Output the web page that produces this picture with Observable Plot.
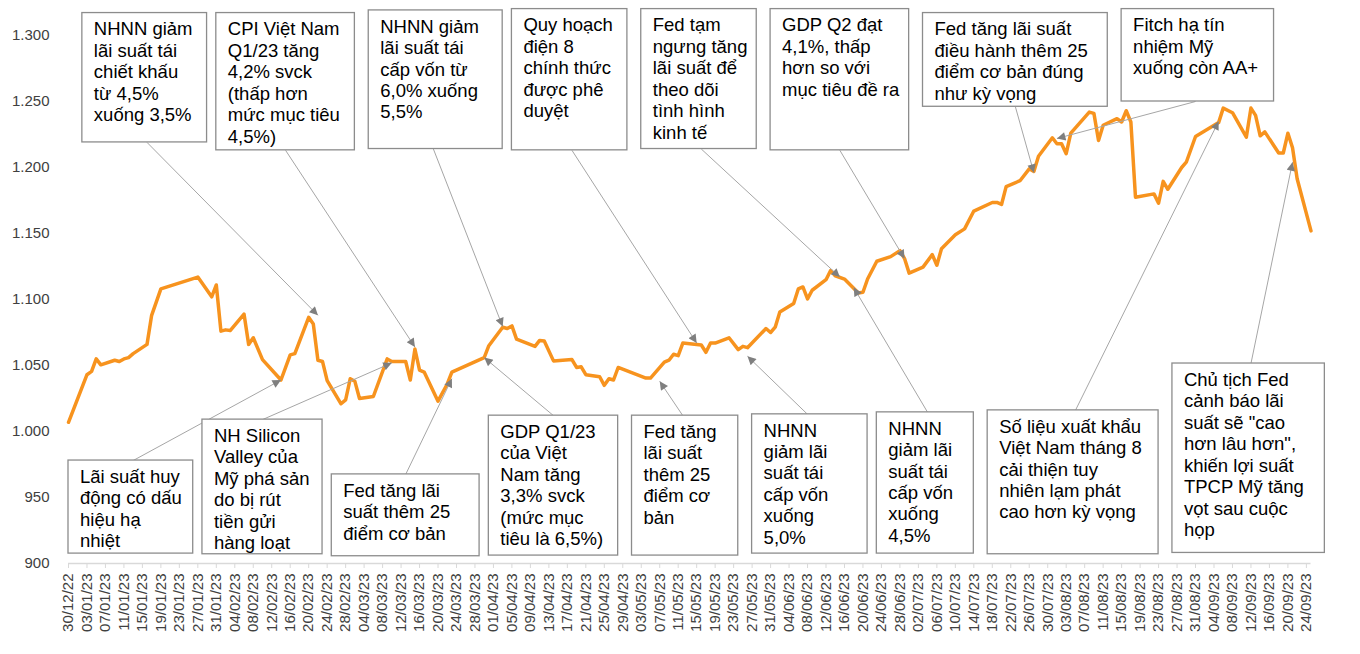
<!DOCTYPE html>
<html>
<head>
<meta charset="utf-8">
<script src="https://cdn.jsdelivr.net/npm/d3@7"></script>
<script src="https://cdn.jsdelivr.net/npm/@observablehq/plot@0.6"></script>
<style>
  html, body { margin: 0; padding: 0; background: #fff; }
  #chart svg { overflow: visible; }
</style>
</head>
<body>
<div id="chart"></div>
<script>
// ---------- DATA ----------
const dates = [
  "2022-12-30","2023-01-03","2023-01-04","2023-01-05","2023-01-06","2023-01-09","2023-01-10","2023-01-11","2023-01-12","2023-01-13",
  "2023-01-16","2023-01-17","2023-01-18","2023-01-19","2023-01-27","2023-01-30","2023-01-31","2023-02-01","2023-02-02","2023-02-03",
  "2023-02-06","2023-02-07","2023-02-08","2023-02-10","2023-02-14","2023-02-16","2023-02-17","2023-02-20","2023-02-21","2023-02-22",
  "2023-02-23","2023-02-24","2023-02-27","2023-02-28","2023-03-01","2023-03-02","2023-03-03","2023-03-06","2023-03-09","2023-03-10",
  "2023-03-13","2023-03-14","2023-03-15","2023-03-16","2023-03-17","2023-03-20","2023-03-22","2023-03-23","2023-03-30","2023-03-31",
  "2023-04-03","2023-04-04","2023-04-05","2023-04-06","2023-04-10","2023-04-11","2023-04-12","2023-04-14","2023-04-18","2023-04-19",
  "2023-04-20","2023-04-21","2023-04-24","2023-04-25","2023-04-26","2023-04-27","2023-04-28","2023-05-04","2023-05-05","2023-05-08",
  "2023-05-09","2023-05-10","2023-05-11","2023-05-12","2023-05-16","2023-05-17","2023-05-18","2023-05-19","2023-05-22","2023-05-24",
  "2023-05-25","2023-05-26","2023-05-30","2023-05-31","2023-06-01","2023-06-02","2023-06-05","2023-06-06","2023-06-07","2023-06-08",
  "2023-06-09","2023-06-12","2023-06-13","2023-06-14","2023-06-16","2023-06-19","2023-06-20","2023-06-21","2023-06-23","2023-06-26",
  "2023-06-28","2023-06-29","2023-06-30","2023-07-03","2023-07-05","2023-07-06","2023-07-07","2023-07-10","2023-07-12","2023-07-14",
  "2023-07-18","2023-07-19","2023-07-20","2023-07-21","2023-07-24","2023-07-26","2023-07-27","2023-07-28","2023-07-31","2023-08-01",
  "2023-08-02","2023-08-03","2023-08-04","2023-08-08","2023-08-09","2023-08-10","2023-08-11","2023-08-14","2023-08-15","2023-08-16",
  "2023-08-17","2023-08-18","2023-08-22","2023-08-23","2023-08-24","2023-08-25","2023-08-28","2023-08-29","2023-08-31","2023-09-05",
  "2023-09-06","2023-09-08","2023-09-11","2023-09-12","2023-09-13","2023-09-14","2023-09-15","2023-09-18","2023-09-19","2023-09-20",
  "2023-09-21","2023-09-22","2023-09-25"
];
const values = [
  1007,1043,1045.5,1055,1050.5,1054,1053,1055,1056,1059,
  1066,1088,1098,1108,1117,1102,1111,1076,1077,1076.5,
  1089,1066,1071,1054.5,1039,1058,1059,1086.5,1081.5,1054,
  1053,1038.5,1021,1024,1040,1038,1025,1026.5,1055,1053,
  1053,1039,1062.5,1046.5,1045,1023,1036,1045,1056,1065,
  1079,1078,1080,1070,1064.5,1069,1068.5,1053.5,1054.5,1048.5,
  1049,1043,1041.5,1035,1040,1039,1048.5,1040.5,1040.5,1052.5,
  1054,1058.5,1057.5,1067,1065.5,1060,1067,1067,1071,1062,
  1064.5,1063.5,1078,1075,1079,1090.5,1097,1108,1109.5,1100.5,
  1107,1115,1122,1118,1115.5,1105,1105.5,1115.5,1129,1132.5,
  1137,1131,1120,1124.5,1134,1126,1138.5,1149,1153.5,1167,
  1173.5,1173.5,1172,1185.5,1190,1199,1197,1208.5,1222.5,1218,
  1218,1210.5,1226,1242,1241,1220.5,1232,1237,1234.5,1243,
  1234.5,1177.5,1180,1173,1189.5,1183.5,1200,1204,1223.5,1234,
  1245,1241.5,1223,1245,1239.5,1224,1227,1211,1211,1226,
  1215,1191.5,1152
];
const yTicks = [900, 950, 1000, 1050, 1100, 1150, 1200, 1250, 1300];
const xTickStart = "2022-12-30";
const xTickEnd = "2023-09-25";
const xTickStepDays = 4;

const noteTexts = [
  "NHNN giảm\nlãi suất tái\nchiết khấu\ntừ 4,5%\nxuống 3,5%",
  "CPI Việt Nam\nQ1/23 tăng\n4,2% svck\n(thấp hơn\nmức mục tiêu\n4,5%)",
  "NHNN giảm\nlãi suất tái\ncấp vốn từ\n6,0% xuống\n5,5%",
  "Quy hoạch\nđiện 8\nchính thức\nđược phê\nduyệt",
  "Fed tạm\nngưng tăng\nlãi suất để\ntheo dõi\ntình hình\nkinh tế",
  "GDP Q2 đạt\n4,1%, thấp\nhơn so với\nmục tiêu đề ra",
  "Fed tăng lãi suất\nđiều hành thêm 25\nđiểm cơ bản đúng\nnhư kỳ vọng",
  "Fitch hạ tín\nnhiệm Mỹ\nxuống còn AA+",
  "Lãi suất huy\nđộng có dấu\nhiệu hạ\nnhiệt",
  "NH Silicon\nValley của\nMỹ phá sản\ndo bị rút\ntiền gửi\nhàng loạt",
  "Fed tăng lãi\nsuất thêm 25\nđiểm cơ bản",
  "GDP Q1/23\ncủa Việt\nNam tăng\n3,3% svck\n(mức mục\ntiêu là 6,5%)",
  "Fed tăng\nlãi suất\nthêm 25\nđiểm cơ\nbản",
  "NHNN\ngiảm lãi\nsuất tái\ncấp vốn\nxuống\n5,0%",
  "NHNN\ngiảm lãi\nsuất tái\ncấp vốn\nxuống\n4,5%",
  "Số liệu xuất khẩu\nViệt Nam tháng 8\ncải thiện tuy\nnhiên lạm phát\ncao hơn kỳ vọng",
  "Chủ tịch Fed\ncảnh báo lãi\nsuất sẽ \"cao\nhơn lâu hơn\",\nkhiến lợi suất\nTPCP Mỹ tăng\nvọt sau cuộc\nhọp"
];
// point on the line each note's arrow refers to
const noteTargetDates = [
  "2023-02-22","2023-03-15","2023-04-03","2023-05-15","2023-06-15","2023-06-29","2023-07-27","2023-08-01",
  "2023-02-14","2023-03-10","2023-03-23","2023-03-30","2023-05-07","2023-05-26","2023-06-18","2023-09-05","2023-09-21"
];
const noteTargetValues = [
  1088, 1064, 1079.5, 1067, 1117, 1131, 1196, 1222,
  1039, 1052, 1040, 1056, 1038, 1057, 1109, 1235, 1204
];

// ---------- LAYOUT (annotation boxes in chart coordinates) ----------
// [left date, right date, top value, bottom value, arrow-start date, arrow-start value]
const boxLayout = [
  ["2023-01-02","2023-01-29",1317,1219,"2023-01-16",1219],
  ["2023-01-31","2023-03-02",1317,1213,"2023-02-15",1213],
  ["2023-03-05","2023-04-03",1319,1214,"2023-03-19",1214],
  ["2023-04-05","2023-04-30",1320,1213,"2023-04-18",1213],
  ["2023-05-03","2023-05-28",1320,1214,"2023-05-16",1214],
  ["2023-05-31","2023-06-30",1320,1213,"2023-06-15",1213],
  ["2023-07-03","2023-08-12",1317,1246,"2023-07-23",1246],
  ["2023-08-15","2023-09-17",1320,1250,"2023-08-31",1250],
  ["2022-12-30","2023-01-26",978,907.5,"2023-01-13",978],
  ["2023-01-28","2023-02-23",1009,907,"2023-02-10",1009],
  ["2023-02-25","2023-03-29",967.5,905.5,"2023-03-13",967.5],
  ["2023-03-31","2023-04-28",1012,906,"2023-04-14",1012],
  ["2023-05-01","2023-05-24",1012,906,"2023-05-12",1012],
  ["2023-05-27","2023-06-21",1013,907.5,"2023-06-08",1013],
  ["2023-06-23","2023-07-14",1014.5,907.5,"2023-07-04",1014.5],
  ["2023-07-17","2023-08-23",1016,907,"2023-08-05",1016],
  ["2023-08-26","2023-09-28",1051.5,908,"2023-09-12",1051.5]
];

// ---------- BUILD ----------
const parse = d3.utcParse("%Y-%m-%d");
const series = dates.map((d, i) => ({date: parse(d), value: values[i]}));
const notes = noteTexts.map((t, i) => ({
  text: t,
  tx: parse(noteTargetDates[i]), ty: noteTargetValues[i],
  x1: parse(boxLayout[i][0]), x2: parse(boxLayout[i][1]),
  y1: boxLayout[i][2], y2: boxLayout[i][3],
  sx: parse(boxLayout[i][4]), sy: boxLayout[i][5]
}));
const xTicks = d3.utcDay.range(parse(xTickStart), parse(xTickEnd), xTickStepDays);
const fmtVN = d => d >= 1000 ? Math.floor(d / 1000) + "." + String(d % 1000).padStart(3, "0") : String(d);

const chart = Plot.plot({
  width: 1360,
  height: 654,
  marginLeft: 68,
  marginRight: 49.5,
  marginTop: 35,
  marginBottom: 91,
  style: {fontFamily: "'Liberation Sans', Arial, sans-serif", background: "#fff", overflow: "visible"},
  x: {type: "utc", domain: [parse("2022-12-30"), parse("2023-09-25")]},
  y: {domain: [900, 1300]},
  marks: [
    Plot.ruleY([900], {stroke: "#d9d9d9", strokeWidth: 1.5}),
    Plot.axisX({ticks: xTicks, tickFormat: d3.utcFormat("%d/%m/%y"), tickRotate: -90, tickSize: 5, tickPadding: 5,
      stroke: "#d9d9d9", fill: "#404040", fontSize: 15, label: null}),
    Plot.axisY({ticks: yTicks, tickFormat: fmtVN, tickSize: 0, tickPadding: 19, fontSize: 15, fill: "#404040", label: null}),
    Plot.line(series, {x: "date", y: "value", stroke: "#f7931e", strokeWidth: 3.5}),
    Plot.link(notes, {x1: "sx", y1: "sy", x2: "tx", y2: "ty", stroke: "#a6a6a6", strokeWidth: 1}),
    Plot.rect(notes, {x1: "x1", x2: "x2", y1: "y1", y2: "y2", fill: "white", stroke: "#8c8c8c", strokeWidth: 1.3}),
    Plot.text(notes, {x: "x1", y: "y1", text: "text", textAnchor: "start", lineAnchor: "top",
      dx: 11.5, dy: 7, fontSize: 18.5, lineHeight: 1.16, fill: "#000"})
  ]
});
document.getElementById("chart").appendChild(chart);

// filled triangular arrowheads on the annotation links
const svg = d3.select(chart);
const defs = svg.append("defs");
defs.append("marker")
  .attr("id", "tri-head")
  .attr("viewBox", "0 0 10 10")
  .attr("refX", 10).attr("refY", 5)
  .attr("markerWidth", 10).attr("markerHeight", 8.5)
  .attr("markerUnits", "userSpaceOnUse")
  .attr("orient", "auto")
  .append("path").attr("d", "M0,0L10,5L0,10Z").attr("fill", "#7f7f7f");
svg.selectAll('g[aria-label="link"] path').attr("marker-end", "url(#tri-head)");
</script>
</body>
</html>
